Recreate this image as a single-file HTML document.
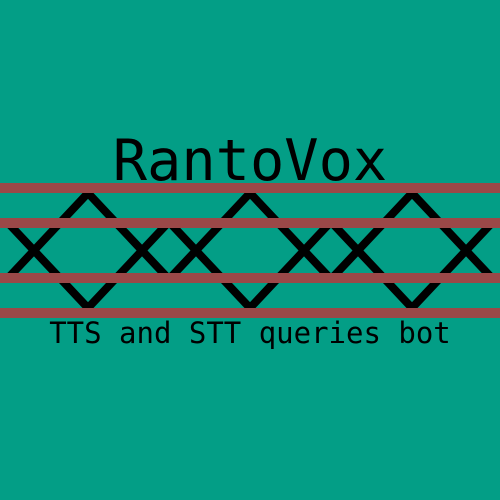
<!DOCTYPE html>
<html><head><meta charset="utf-8"><style>
html,body{margin:0;padding:0;background:#039e86;}
svg{display:block}
</style></head><body>
<svg width="500" height="500" viewBox="0 0 500 500" xmlns="http://www.w3.org/2000/svg">
<rect width="500" height="500" fill="#039e86"/>
<g stroke="#000" stroke-width="8" stroke-linecap="butt" fill="none">
<polyline points="10,276 88,193 166,276"/>
<polyline points="172,276 250,193 328,276"/>
<polyline points="334,276 412,193 490,276"/>
<polyline points="10,225 88,308 166,225"/>
<polyline points="172,225 250,308 328,225"/>
<polyline points="334,225 412,308 490,225"/>
</g>
<g fill="#9b4848">
<rect x="0" y="183" width="500" height="10"/>
<rect x="0" y="218" width="500" height="10"/>
<rect x="0" y="273" width="500" height="10"/>
<rect x="0" y="308" width="500" height="10"/>
</g>
<text x="250" y="180" text-anchor="middle" font-family="DejaVu Sans Mono, monospace" font-size="57" fill="#000">RantoVox</text>
<text x="250" y="343" text-anchor="middle" font-family="DejaVu Sans Mono, monospace" font-size="29" fill="#000">TTS and STT queries bot</text>
</svg>
</body></html>
